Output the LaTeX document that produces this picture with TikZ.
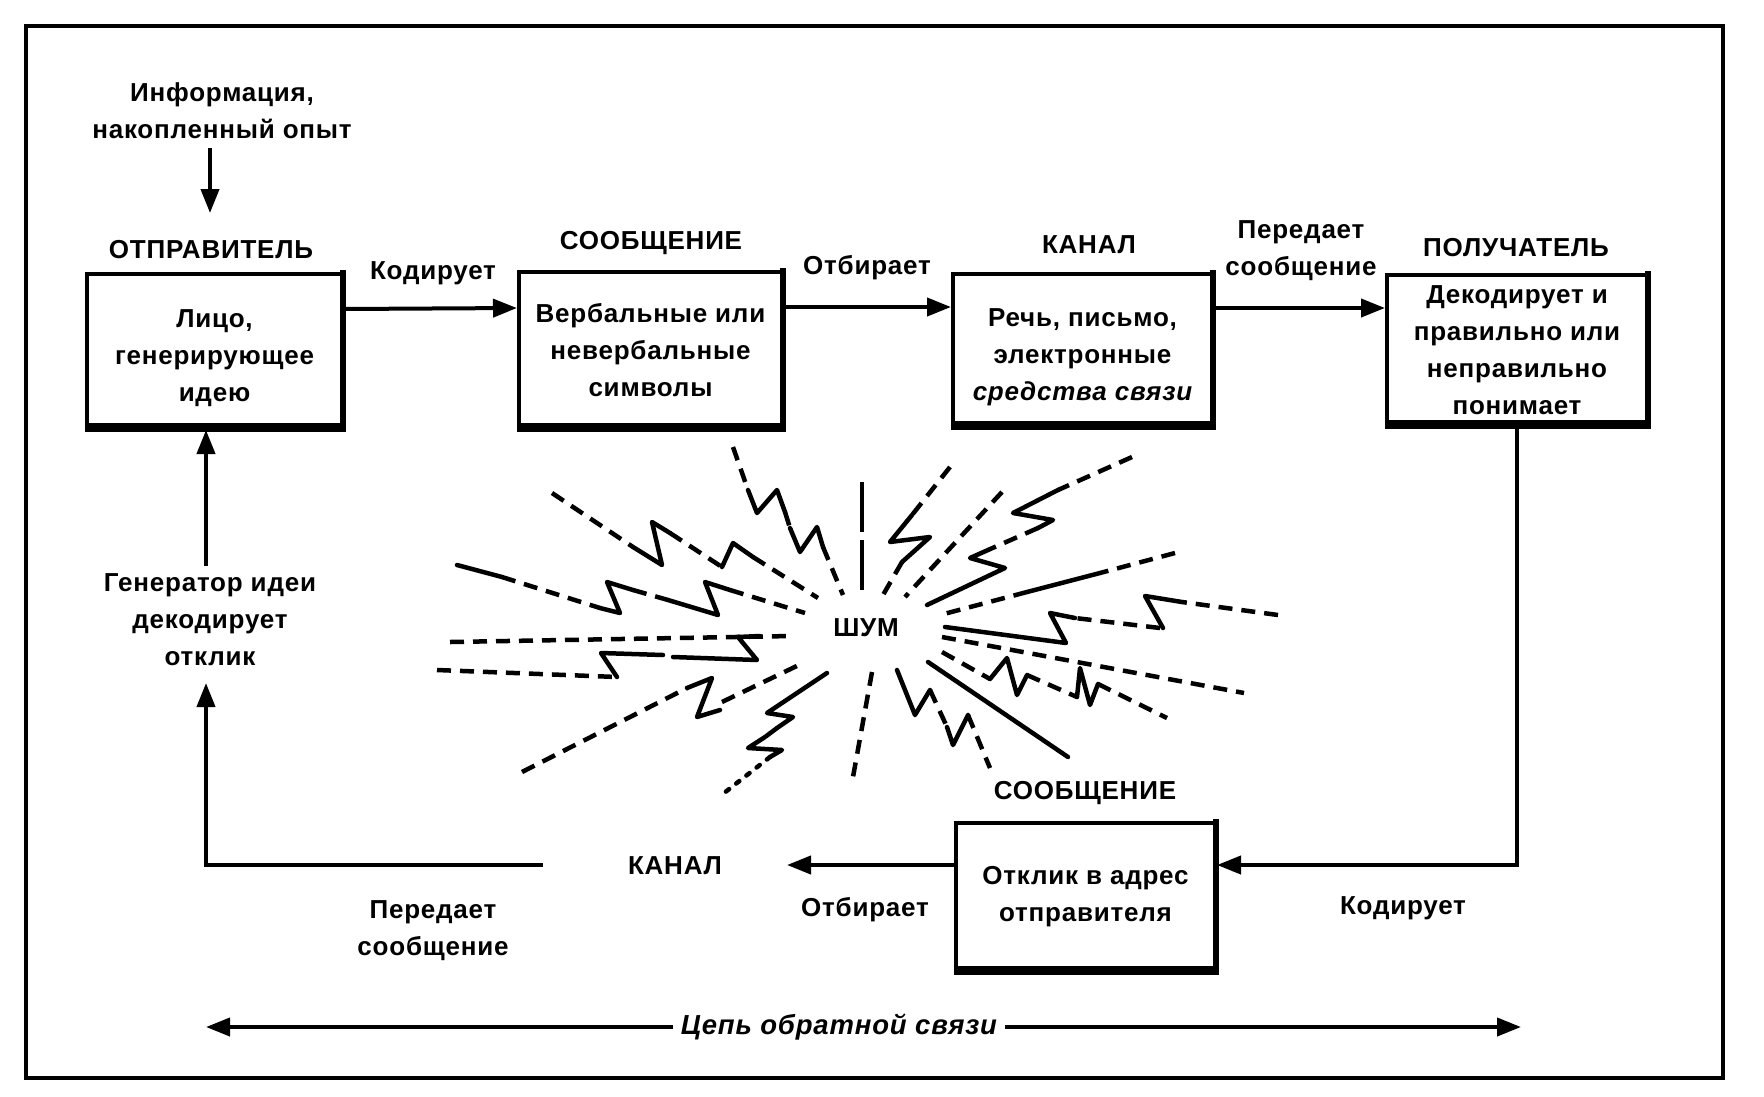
\documentclass[tikz,border=0pt]{standalone}
\usepackage{fontspec}
\setmainfont{Liberation Sans}[LetterSpace=3]
\usetikzlibrary{arrows.meta,calc}
\newcommand{\boxshade}[1]{%
  \fill ([yshift=-2pt]#1.south west) rectangle ([yshift=7pt,xshift=2pt]#1.south east);
  \fill ([xshift=-4pt]#1.south east) rectangle ([xshift=2pt,yshift=2pt]#1.north east);}
\begin{document}
\begin{tikzpicture}[x=1pt,y=-1pt,
  every node/.style={font=\bfseries\fontsize{26}{37}\selectfont, inner sep=2pt, align=center},
  box/.style={draw, line width=4pt, inner sep=0pt},
  arr/.style={line width=4pt, -{Triangle[length=24pt,width=18pt]}},
  nd/.style={line width=4.5pt, dash pattern=on 14pt off 9pt},
  ns/.style={line width=4.5pt, line join=round, line cap=round},
  ndot/.style={line width=4.5pt, dash pattern=on 4pt off 9pt, line cap=round},
  nlong/.style={line width=4pt, dash pattern=on 50pt off 8pt},
  italic/.style={font=\bfseries\itshape\fontsize{27.5}{37}\selectfont}]
\useasboundingbox (0,0) rectangle (1764,1096);
\draw[line width=4.5pt] (26,26) rectangle (1723,1078);

% boxes
\node[box, minimum width=255pt, minimum height=154pt] (b1) at (214.5,351) {\rule{0pt}{32pt}Лицо,\\генерирующее\\идею};
\node[box, minimum width=263pt, minimum height=156pt] (b2) at (650.5,350) {Вербальные или\\невербальные\\символы};
\node[box, minimum width=259pt, minimum height=152pt] (b3) at (1082.5,350) {\rule{0pt}{32pt}Речь, письмо,\\электронные\\{\itshape средства связи}};
\node[box, minimum width=260pt, minimum height=150pt] (b4) at (1517,350) {Декодирует и\\правильно или\\неправильно\\понимает};
\node[box, minimum width=259pt, minimum height=148pt] (b5) at (1085.5,897) {Отклик в адрес\\отправителя};
\boxshade{b1}\boxshade{b2}\boxshade{b3}\boxshade{b4}\boxshade{b5}

% labels
\node (info) at (222,111) {Информация,\\накопленный опыт};
\node (lsender) at (211,250) {ОТПРАВИТЕЛЬ};
\node (lenc) at (433,273) {Кодирует};
\node (lmsg) at (651,243) {СООБЩЕНИЕ};
\node (lsel) at (867,268) {Отбирает};
\node (lchan) at (1089,245) {КАНАЛ};
\node (ltrans) at (1301,251) {Передает\\сообщение};
\node (lrecv) at (1516,248) {ПОЛУЧАТЕЛЬ};
\node (lmsg2) at (1085,793) {СООБЩЕНИЕ};
\node (lenc2) at (1403,908) {Кодирует};
\node (lsel2) at (865,910) {Отбирает};
\node (lchan2) at (675,866) {КАНАЛ};
\node (ltrans2) at (433,931) {Передает\\сообщение};
\node (lgen) at (210,620) {Генератор идеи\\декодирует\\отклик};
\node[italic, inner xsep=8pt] (lcycle) at (839,1027) {Цепь обратной связи};
\node (noise) at (866,628) {ШУМ};

% connectors
\coordinate (infoA) at (210,148);
\coordinate (infoB) at (210,213);
\draw[arr] (infoA) -- (infoB);
\draw[arr] ([yshift=42pt]b1.east) -- ([yshift=42pt]b2.west);
\draw[arr] ([yshift=43pt]b2.east) -- ([yshift=43pt]b3.west);
\draw[arr] ([yshift=42pt]b3.east) -- ([yshift=42pt]b4.west);
\coordinate (b5e) at ([yshift=32pt]b5.east);
\coordinate (b5w) at ([yshift=32pt]b5.west);
\draw[arr] (b4.south) |- (b5e);
\coordinate (fbmid) at (787,865);
\draw[arr] (b5w) -- (fbmid);
\coordinate (fbstart) at (543,865);
\coordinate (fbup) at (206,683);
\draw[arr] (fbstart) -| (fbup);
\coordinate (genup) at (206,566);
\draw[arr] (genup) -- (genup |- b1.south);
\coordinate (cycL) at (206,1027);
\coordinate (cycR) at (1521,1027);
\draw[arr] (lcycle.west) -- (cycL);
\draw[arr] (lcycle.east) -- (cycR);

% noise rays
% a
\draw[nd] (733,447) -- (748,490);
\draw[ns] (748,490) -- (757,513) -- (777,490) -- (785,512);
\draw[nd] (785,512) -- (790,528);
\draw[ns] (790,528) -- (800,552) -- (817,527) -- (823,547);
\draw[nd] (823,547) -- (843,595);
% b
\draw[nlong] (862,482) -- (862,595);
% c
\draw[nd] (950,467) -- (912,515);
\draw[ns] (912,515) -- (890,542) -- (930,537) -- (902,562);
\draw[nd] (902,562) -- (883,595);
% d
\draw[nd] (1002,492) -- (905,597);
% e
\draw[nd] (1132,457) -- (1058,490);
\draw[ns] (1058,490) -- (1013,513) -- (1053,520) -- (1038,528);
\draw[nd] (1038,528) -- (988,550);
\draw[ns] (988,550) -- (970,558) -- (1005,568) -- (927,605);
% f
\draw[nd] (1175,553) -- (1100,573);
\draw[ns] (1100,573) -- (1027,592);
\draw[nd] (1027,592) -- (940,615);
% g
\draw[nd] (1278,615) -- (1182,602);
\draw[ns] (1182,602) -- (1145,596) -- (1163,628);
\draw[nd] (1160,628) -- (1075,618);
\draw[ns] (1075,618) -- (1050,613) -- (1066,643) -- (945,627);
% h
\draw[nd] (942,637) -- (1244,693);
% i
\draw[nd] (942,652) -- (990,679);
\draw[ns] (990,679) -- (1007,658) -- (1017,695) -- (1027,675);
\draw[nd] (1027,675) -- (1077,697);
\draw[ns] (1077,697) -- (1080,668) -- (1090,705) -- (1098,684);
\draw[nd] (1098,684) -- (1167,718);
% j
\draw[nd] (552,493) -- (633,547);
\draw[ns] (633,547) -- (662,565) -- (652,522) -- (670,533);
\draw[nd] (670,533) -- (722,567);
\draw[ns] (722,567) -- (733,543) -- (753,557);
\draw[nd] (753,557) -- (818,598);
% k
\draw[ns] (457,565) -- (502,577);
\draw[nd] (502,577) -- (600,608);
\draw[ns] (600,608) -- (620,613) -- (607,582) -- (633,590);
\draw[nd] (633,590) -- (668,600);
\draw[ns] (668,600) -- (718,615) -- (705,582) -- (730,590);
\draw[nd] (730,590) -- (805,613);
% l
\draw[nd] (450,642) -- (792,636);
% m
\draw[nd] (437,670) -- (617,677);
\draw[ns] (617,677) -- (601,653) -- (663,655);
\draw[ns] (673,657) -- (757,660) -- (738,637) -- (760,636);
% n
\draw[nd] (522,772) -- (687,688);
\draw[ns] (687,688) -- (712,678) -- (697,717) -- (720,710);
\draw[nd] (722,702) -- (803,663);
% o
\draw[ns] (827,673) -- (767,713) -- (793,717) -- (777,728);
\draw[nd] (777,728) -- (765,737);
\draw[ns] (765,737) -- (748,748) -- (782,750) -- (770,757);
\draw[ndot] (770,757) -- (719,797);
% p
\draw[nd] (872,672) -- (853,777);
% q
\draw[ns] (897,670) -- (915,715) -- (930,690);
\draw[nd] (930,690) -- (947,727);
\draw[ns] (947,727) -- (953,745) -- (968,715);
\draw[nd] (968,715) -- (990,768);
% r
\draw[ns] (928,662) -- (1068,757);
\end{tikzpicture}
\end{document}
